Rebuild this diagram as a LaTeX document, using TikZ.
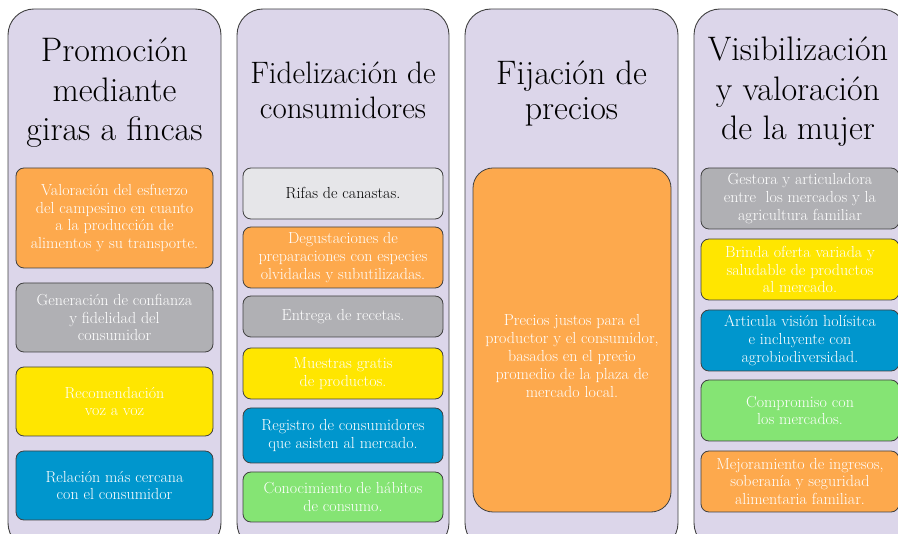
\documentclass[tikz,border=0pt]{standalone}
\usepackage{xcolor}
\usepackage{tikz}

\definecolor{lavanda}{RGB}{220,214,234}
\definecolor{naranja}{RGB}{253,169,77}
\definecolor{gris}{RGB}{176,176,180}
\definecolor{grisclaro}{RGB}{230,230,233}
\definecolor{amarillo}{RGB}{255,230,0}
\definecolor{azul}{RGB}{0,150,205}
\definecolor{verde}{RGB}{133,228,116}
\definecolor{borde}{RGB}{64,64,64}

\tikzset{
  columna/.style={draw=borde, fill=lavanda, rounded corners=26pt, line width=0.9pt, inner sep=0pt},
  titulo/.style={align=center, inner sep=0pt, font=\fontsize{34}{39.5}\selectfont},
  titulochico/.style={align=center, inner sep=0pt, font=\fontsize{31}{35}\selectfont},
  caja/.style={draw=borde, rounded corners=8pt, line width=0.8pt, inner sep=0pt, align=center, text=white, font=\fontsize{16}{17.8}\selectfont},
  cajatexto/.style={inner sep=0pt, align=center, text=white, font=\fontsize{16}{17.8}\selectfont},
}

\begin{document}
\begin{tikzpicture}[x=1pt,y=-1pt]
\clip (0,0) rectangle (898,534);

% columnas
\node[columna, minimum width=213pt, minimum height=540pt] (col1) at (114.5,279) {};
\node[columna, minimum width=212pt, minimum height=540pt] (col2) at (343,279) {};
\node[columna, minimum width=213pt, minimum height=540pt] (col3) at (571.5,279) {};
\node[columna, minimum width=213pt, minimum height=540pt] (col4) at (800.5,279) {};

\node[titulo] (t1) at (114.5,93) {Promoción\\mediante\\giras a fincas};
\node[titulochico] (t2) at (343,90) {Fidelización de\\consumidores};
\node[titulochico, font=\fontsize{34}{35}\selectfont] (t3) at (571.5,93) {Fijación de\\precios};
\node[titulo] (t4) at (798,92) {Visibilización\\y valoración\\de la mujer};

% promocion
\node[caja, fill=naranja, minimum width=197pt, minimum height=100pt] (p1) at (114.5,218) {Valoración del esfuerzo\\del campesino en cuanto\\a la producción de\\alimentos y su transporte.};
\node[caja, fill=gris, minimum width=197pt, minimum height=69pt] (p2) at (114.5,317.5) {Generación de confianza\\y fidelidad del\\consumidor};
\node[caja, fill=amarillo, minimum width=197pt, minimum height=69pt] (p3) at (114.5,401.5) {Recomendación\\voz a voz};
\node[caja, fill=azul, minimum width=197pt, minimum height=69pt] (p4) at (114.5,485.5) {Relación más cercana\\con el consumidor};

% fidelizacion
\node[caja, fill=grisclaro, text=black, minimum width=200pt, minimum height=51pt] (f1) at (343,193.5) {Rifas de canastas.};
\node[caja, fill=naranja, minimum width=200pt, minimum height=61pt] (f2) at (343,257.5) {Degustaciones de\\preparaciones con especies\\olvidadas y subutilizadas.};
\node[caja, fill=gris, minimum width=200pt, minimum height=41pt] (f3) at (343,316.5) {Entrega de recetas.};
\node[caja, fill=amarillo, minimum width=200pt, minimum height=51pt] (f4) at (343,373.5) {Muestras gratis\\de productos.};
\node[caja, fill=azul, minimum width=200pt, minimum height=55pt] (f5) at (343,435.5) {Registro de consumidores\\que asisten al mercado.};
\node[caja, fill=verde, minimum width=200pt, minimum height=50pt] (f6) at (343,497) {Conocimiento de hábitos\\de consumo.};

% precios
\node[caja, fill=naranja, rounded corners=20pt, minimum width=198pt, minimum height=344pt] (pr) at (572,340) {};
\node[cajatexto] (prtexto) at (572,356) {Precios justos para el\\productor y el consumidor,\\basados en el precio\\promedio de la plaza de\\mercado local.};

% mujer
\node[caja, fill=gris, minimum width=198pt, minimum height=61pt] (m1) at (800,198.5) {Gestora y articuladora\\entre\ \ los mercados y la\\agricultura familiar};
\node[caja, fill=amarillo, minimum width=198pt, minimum height=61pt] (m2) at (800,269.5) {Brinda oferta variada y\\saludable de productos\\al mercado.};
\node[caja, fill=azul, minimum width=198pt, minimum height=61pt] (m3) at (800,340.5) {Articula visión holísitca\\e incluyente con\\agrobiodiversidad.};
\node[caja, fill=verde, minimum width=198pt, minimum height=61pt] (m4) at (800,410.5) {Compromiso con\\los mercados.};
\node[caja, fill=naranja, minimum width=198pt, minimum height=61pt] (m5) at (800,481.5) {Mejoramiento de ingresos,\\soberanía y seguridad\\alimentaria familiar.};
\end{tikzpicture}
\end{document}
